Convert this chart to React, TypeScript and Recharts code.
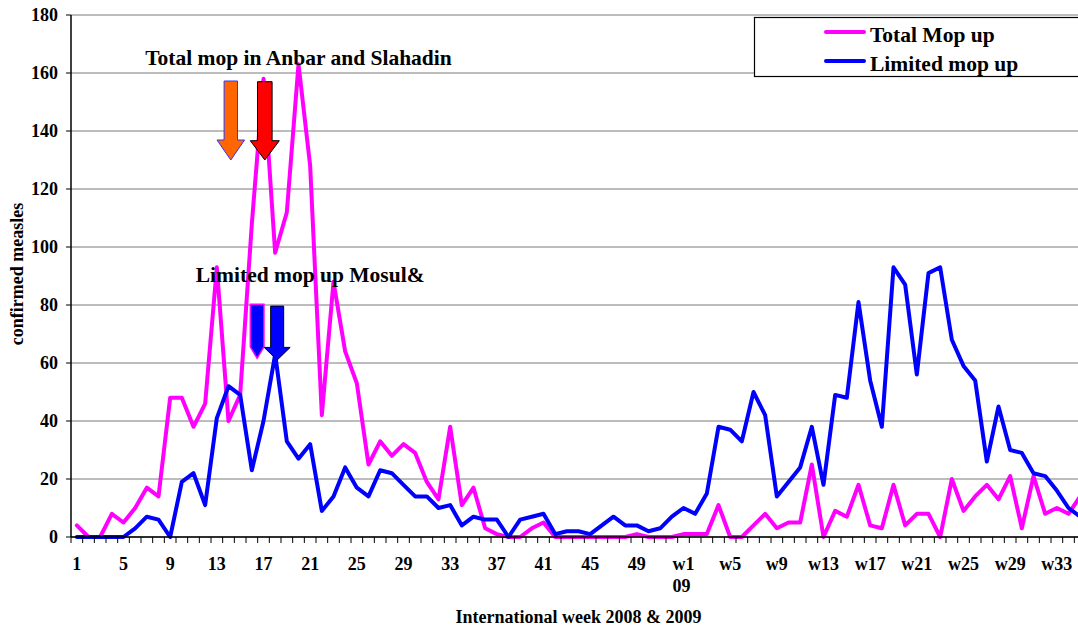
import React from "react";
import {
  LineChart,
  Line,
  XAxis,
  YAxis,
  CartesianGrid,
  Legend,
  ReferenceDot,
  Label,
} from "recharts";

// ---------- data ----------
const weeks2008 = [
  "1", "2", "3", "4", "5", "6", "7", "8", "9", "10", "11", "12", "13",
  "14", "15", "16", "17", "18", "19", "20", "21", "22", "23", "24", "25", "26",
  "27", "28", "29", "30", "31", "32", "33", "34", "35", "36", "37", "38", "39",
  "40", "41", "42", "43", "44", "45", "46", "47", "48", "49", "50", "51", "52",
];
const weeks2009 = [
  "w1", "w2", "w3", "w4", "w5", "w6", "w7", "w8", "w9", "w10", "w11", "w12",
  "w13", "w14", "w15", "w16", "w17", "w18", "w19", "w20", "w21", "w22", "w23",
  "w24", "w25", "w26", "w27", "w28", "w29", "w30", "w31", "w32", "w33", "w34", "w35",
];
const totalMopUp2008 = [
  4, 0, 0, 8, 5, 10, 17, 14, 48, 48, 38, 46, 93,
  40, 49, 108, 158, 98, 112, 163, 128, 42, 88, 64, 53, 25,
  33, 28, 32, 29, 19, 13, 38, 11, 17, 3, 1, 0, 0,
  3, 5, 0, 0, 0, 0, 0, 0, 0, 1, 0, 0, 0,
];
const totalMopUp2009 = [
  1, 1, 1, 11, 0, 0, 4, 8, 3, 5, 5, 25,
  0, 9, 7, 18, 4, 3, 18, 4, 8, 8, 0,
  20, 9, 14, 18, 13, 21, 3, 21, 8, 10, 8, 14,
];
const limitedMopUp2008 = [
  0, 0, 0, 0, 0, 3, 7, 6, 0, 19, 22, 11, 41,
  52, 49, 23, 40, 63, 33, 27, 32, 9, 14, 24, 17, 14,
  23, 22, 18, 14, 14, 10, 11, 4, 7, 6, 6, 0, 6,
  7, 8, 1, 2, 2, 1, 4, 7, 4, 4, 2, 3, 7,
];
const limitedMopUp2009 = [
  10, 8, 15, 38, 37, 33, 50, 42, 14, 19, 24, 38,
  18, 49, 48, 81, 54, 38, 93, 87, 56, 91, 93,
  68, 59, 54, 26, 45, 30, 29, 22, 21, 16, 10, 7,
];
const yTicks = [0, 20, 40, 60, 80, 100, 120, 140, 160, 180];
const seriesNames = ["Total Mop up", "Limited mop up"];
const annotationTexts = ["Total mop in Anbar and Slahadin", "Limited mop up Mosul&"];

const categories = [...weeks2008, ...weeks2009];
const totalMopUp = [...totalMopUp2008, ...totalMopUp2009];
const limitedMopUp = [...limitedMopUp2008, ...limitedMopUp2009];
const data = categories.map((week, i) => ({
  week,
  total: totalMopUp[i],
  limited: limitedMopUp[i],
}));

// ---------- styling ----------
const FONT = '"Liberation Serif", "Times New Roman", Times, serif';
const PINK = "#FF00FF";
const BLUE = "#0000FF";
const HALF_BAND = 5.83;

const XTick = (props: any) => {
  const { x, y, payload, index } = props;
  const idx = payload && typeof payload.index === "number" ? payload.index : index;
  return (
    <g>
      <line x1={x - HALF_BAND} x2={x - HALF_BAND} y1={y} y2={y + 6} stroke="#000" strokeWidth={1} />
      {idx % 4 === 0 && (
        <text
          x={x}
          y={y + 33}
          textAnchor="middle"
          fontFamily={FONT}
          fontWeight="bold"
          fontSize={18}
          fill="#000"
        >
          {payload.value}
        </text>
      )}
      {payload.value === "w1" && (
        <text
          x={x - 2}
          y={y + 55}
          textAnchor="middle"
          fontFamily={FONT}
          fontWeight="bold"
          fontSize={18}
          fill="#000"
        >
          09
        </text>
      )}
    </g>
  );
};

const arrowPath = (
  tx: number,
  ty: number,
  shaftHalf: number,
  headHalf: number,
  headLen: number,
  totalLen: number
) =>
  `M${tx - shaftHalf},${ty - totalLen} L${tx + shaftHalf},${ty - totalLen} L${tx + shaftHalf},${ty - headLen} L${tx + headHalf},${ty - headLen} L${tx},${ty} L${tx - headHalf},${ty - headLen} L${tx - shaftHalf},${ty - headLen} Z`;

const LegendBox = (props: any) => {
  const raw = (props && props.payload) || [];
  const items = [...raw].sort(
    (a: any, b: any) => seriesNames.indexOf(a.value) - seriesNames.indexOf(b.value)
  );
  return (
    <svg width={340} height={61} style={{ display: "block", overflow: "visible" }}>
      <rect x={0.5} y={0.5} width={339} height={59} fill="#fff" stroke="#000" strokeWidth={1.2} />
      {items.map((it: any, i: number) => (
        <g key={i}>
          <line
            x1={72}
            x2={110}
            y1={15 + 29 * i}
            y2={15 + 29 * i}
            stroke={it.color}
            strokeWidth={4}
            strokeLinecap="round"
          />
          <text
            x={116}
            y={24.5 + 29 * i}
            fontFamily={FONT}
            fontWeight="bold"
            fontSize={21.5}
            fill="#000"
          >
            {it.value}
          </text>
        </g>
      ))}
    </svg>
  );
};

export default function App() {
  return (
    <div
      style={{
        position: "absolute",
        left: 0,
        top: 0,
        width: 1078,
        height: 626,
        overflow: "hidden",
        background: "#fff",
      }}
    >
      <LineChart
        width={1090}
        height={626}
        data={data}
        margin={{ top: 15, right: 4, left: 0, bottom: 0 }}
      >
        <CartesianGrid vertical={false} stroke="#7a7a7a" strokeWidth={1} />
        <XAxis
          dataKey="week"
          interval={0}
          height={89}
          padding={{ left: HALF_BAND, right: HALF_BAND }}
          tickSize={0}
          tickMargin={0}
          tickLine={false}
          axisLine={{ stroke: "#000", strokeWidth: 1.5 }}
          tick={<XTick />}
        >
          <Label
            content={(p: any) => {
              const vb = p.viewBox || { x: 71, y: 537, width: 1015, height: 89 };
              return (
                <text
                  x={vb.x + vb.width / 2}
                  y={vb.y + vb.height - 3}
                  textAnchor="middle"
                  fontFamily={FONT}
                  fontWeight="bold"
                  fontSize={18}
                  fill="#000"
                >
                  International week 2008 &amp; 2009
                </text>
              );
            }}
          />
        </XAxis>
        <YAxis
          width={71}
          domain={[0, 180]}
          ticks={yTicks}
          interval={0}
          tickSize={5}
          tickMargin={8}
          tickLine={{ stroke: "#000" }}
          axisLine={{ stroke: "#000", strokeWidth: 1.5 }}
          tick={{ fontFamily: FONT, fontWeight: "bold", fontSize: 18, fill: "#000" }}
        >
          <Label
            content={(p: any) => {
              const vb = p.viewBox || { x: 0, y: 15, width: 71, height: 522 };
              const cx = vb.x + 23;
              const cy = vb.y + vb.height / 2 - 2;
              return (
                <text
                  x={cx}
                  y={cy}
                  transform={`rotate(-90 ${cx} ${cy})`}
                  textAnchor="middle"
                  fontFamily={FONT}
                  fontWeight="bold"
                  fontSize={18}
                  fill="#000"
                >
                  confirmed measles
                </text>
              );
            }}
          />
        </YAxis>
        <Legend
          layout="vertical"
          align="center"
          verticalAlign="middle"
          itemSorter={(item: any) => seriesNames.indexOf(item.value)}
          content={<LegendBox />}
          wrapperStyle={{ position: "absolute", left: 754, top: 17, width: 340, height: 61 }}
        />
        <Line
          type="linear"
          dataKey="total"
          name={seriesNames[0]}
          stroke={PINK}
          strokeWidth={4}
          dot={false}
          activeDot={false}
          strokeLinejoin="round"
          strokeLinecap="round"
          isAnimationActive={false}
        />
        <Line
          type="linear"
          dataKey="limited"
          name={seriesNames[1]}
          stroke={BLUE}
          strokeWidth={4}
          dot={false}
          activeDot={false}
          strokeLinejoin="round"
          strokeLinecap="round"
          isAnimationActive={false}
        />
        {/* annotation arrows */}
        <ReferenceDot
          x="14"
          y={130}
          r={0}
          shape={(p: any) => (
            <path d={arrowPath(p.cx + 2.3, p.cy, 6.7, 13.8, 20, 79)} fill="#FF6600" stroke="#3333FF" strokeWidth={1} />
          )}
        />
        <ReferenceDot
          x="17"
          y={130}
          r={0}
          shape={(p: any) => (
            <path d={arrowPath(p.cx + 1.3, p.cy, 7.3, 14.5, 19.3, 78.3)} fill="#FF0000" stroke="#000" strokeWidth={1} />
          )}
        />
        <ReferenceDot
          x="16"
          y={61.6}
          r={0}
          shape={(p: any) => (
            <path d={arrowPath(p.cx + 5.3, p.cy, 6.8, 6.8, 11.6, 54)} fill="#0000FF" stroke="#FF00FF" strokeWidth={1.5} />
          )}
        />
        <ReferenceDot
          x="18"
          y={61}
          r={0}
          shape={(p: any) => (
            <path d={arrowPath(p.cx + 2, p.cy, 6.5, 13, 12.7, 54)} fill="#0000FF" stroke="#000" strokeWidth={1} />
          )}
        />
        {/* annotation texts */}
        <ReferenceDot
          x="20"
          y={162.8}
          r={0}
          shape={(p: any) => (
            <text x={p.cx} y={p.cy} textAnchor="middle" fontFamily={FONT} fontWeight="bold" fontSize={21.5} fill="#000">
              {annotationTexts[0]}
            </text>
          )}
        />
        <ReferenceDot
          x="21"
          y={88}
          r={0}
          shape={(p: any) => (
            <text x={p.cx} y={p.cy} textAnchor="middle" fontFamily={FONT} fontWeight="bold" fontSize={21.5} fill="#000">
              {annotationTexts[1]}
            </text>
          )}
        />
      </LineChart>
    </div>
  );
}
